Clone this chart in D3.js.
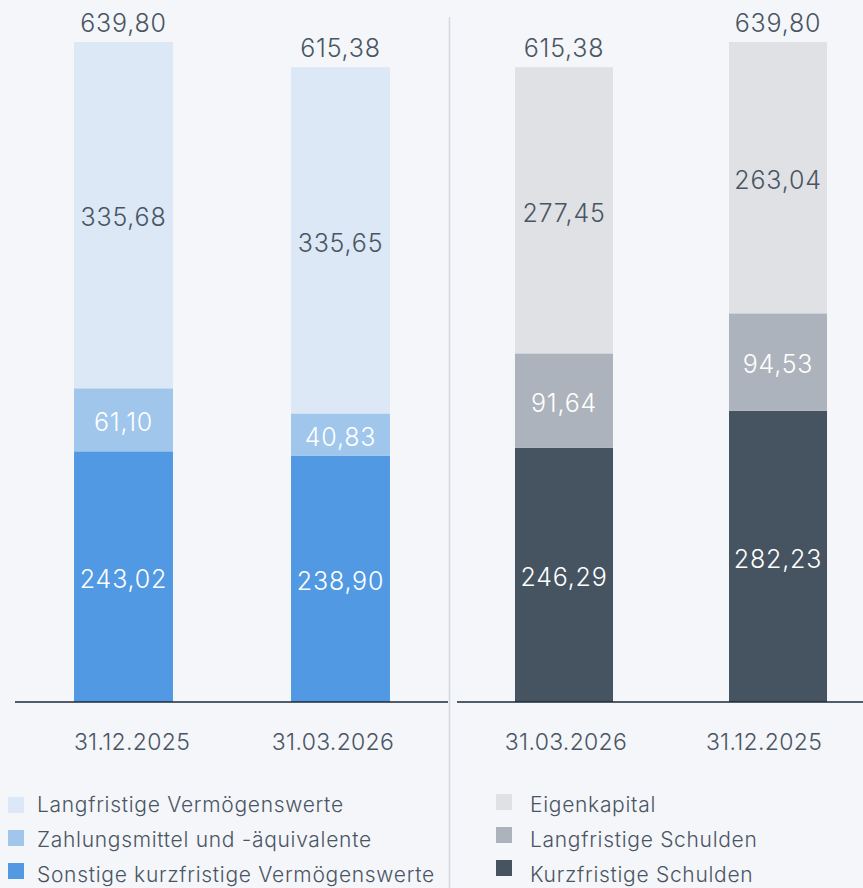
<!DOCTYPE html>
<html>
<head>
<meta charset="utf-8">
<script src="https://cdn.jsdelivr.net/npm/d3@7"></script>
<style>
  body { margin: 0; background: #f4f6fa; }
  svg { display: block; font-family: Inter, "Open Sans", sans-serif; }
</style>
</head>
<body>
<svg width="863" height="888"></svg>
<script>
// Aktiva
const assetDates = ['31.12.2025', '31.03.2026'];
const assetSeries = ['Sonstige kurzfristige Vermögenswerte', 'Zahlungsmittel und -äquivalente', 'Langfristige Vermögenswerte'];
const sonstigeKurz = [243.02, 238.90];
const zahlungsmittel = [61.10, 40.83];
const langVermoegen = [335.68, 335.65];
const assetTotals = [639.80, 615.38];

// Passiva
const liabDates = ['31.03.2026', '31.12.2025'];
const liabSeries = ['Kurzfristige Schulden', 'Langfristige Schulden', 'Eigenkapital'];
const kurzSchulden = [246.29, 282.23];
const langSchulden = [91.64, 94.53];
const eigenkapital = [277.45, 263.04];
const liabTotals = [615.38, 639.80];

const assetColors = ['#5199e2', '#a0c6ec', '#dce8f6'];
const liabColors = ['#465361', '#adb3bc', '#dfe1e5'];
const labelColors = ['#ffffff', '#ffffff', '#4a5563'];
const textColor = '#4a5563';

const fmt = v => v.toFixed(2).replace('.', ',');

const svg = d3.select('svg');
const baseY = 702;
const y = d3.scaleLinear().domain([0, 639.80]).range([baseY, 42]);

function panel(dates, series, values, totals, colors, x, tickX, lineX) {
  const g = svg.append('g');
  const rows = dates.map((d, i) => {
    const r = { date: d };
    series.forEach((s, j) => r[s] = values[j][i]);
    return r;
  });
  const stacked = d3.stack().keys(series)(rows);

  stacked.forEach((layer, j) => {
    g.selectAll('.seg' + j)
      .data(layer)
      .enter()
      .append('rect')
      .attr('x', d => x(d.data.date))
      .attr('width', x.bandwidth())
      .attr('y', d => y(d[1]))
      .attr('height', d => y(d[0]) - y(d[1]))
      .attr('fill', colors[j]);

    g.selectAll('.lab' + j)
      .data(layer)
      .enter()
      .append('text')
      .text(d => fmt(d[1] - d[0]))
      .attr('x', d => x(d.data.date) + x.bandwidth() / 2)
      .attr('y', d => (y(d[0]) + y(d[1])) / 2)
      .attr('dy', '0.45em')
      .attr('text-anchor', 'middle')
      .attr('font-size', 25)
      .attr('font-weight', 300)
      .attr('letter-spacing', 0.8)
      .attr('fill', labelColors[j]);
  });

  g.selectAll('.total')
    .data(dates)
    .enter()
    .append('text')
    .text((d, i) => fmt(totals[i]))
    .attr('x', d => x(d) + x.bandwidth() / 2)
    .attr('y', (d, i) => y(totals[i]) - 10)
    .attr('text-anchor', 'middle')
    .attr('font-size', 25)
    .attr('font-weight', 300)
    .attr('letter-spacing', 0.8)
    .attr('fill', textColor);

  g.append('line')
    .attr('x1', lineX[0]).attr('x2', lineX[1])
    .attr('y1', baseY).attr('y2', baseY)
    .attr('stroke', '#1c2a3a')
    .attr('stroke-width', 1.5);

  g.selectAll('.tick')
    .data(dates)
    .enter()
    .append('text')
    .text(d => d)
    .attr('x', d => tickX(d))
    .attr('y', 750)
    .attr('text-anchor', 'middle')
    .attr('font-size', 23)
    .attr('font-weight', 300)
    .attr('letter-spacing', 0.3)
    .attr('fill', textColor);
}

const xAssets = d3.scaleBand().domain(assetDates).range([15, 449]).paddingInner(0.544).paddingOuter(0.272);
const xLiab = d3.scaleBand().domain(liabDates).range([457.2, 884.8]).paddingInner(0.542).paddingOuter(0.27);
const tickAssets = d3.scalePoint().domain(assetDates).range([132, 333]);
const tickLiab = d3.scalePoint().domain(liabDates).range([566, 764]);

panel(assetDates, assetSeries, [sonstigeKurz, zahlungsmittel, langVermoegen], assetTotals, assetColors, xAssets, tickAssets, [15, 448]);
panel(liabDates, liabSeries, [kurzSchulden, langSchulden, eigenkapital], liabTotals, liabColors, xLiab, tickLiab, [457, 863]);

// separator
svg.append('line')
  .attr('x1', 449.5).attr('x2', 449.5)
  .attr('y1', 17).attr('y2', 888)
  .attr('stroke', '#d3d8de')
  .attr('stroke-width', 1.5);

// legends (top row = top of stack)
function legend(series, colors, x0, swatchY, textDx, textY) {
  const items = series.map((s, i) => ({ name: s, color: colors[i] })).reverse();
  const lg = svg.append('g').attr('transform', `translate(${x0}, 0)`);
  lg.selectAll('rect')
    .data(items)
    .enter()
    .append('rect')
    .attr('x', 0)
    .attr('y', (d, i) => swatchY + i * 33 - 8)
    .attr('width', 16).attr('height', 16)
    .attr('fill', d => d.color);
  lg.selectAll('text')
    .data(items)
    .enter()
    .append('text')
    .text(d => d.name)
    .attr('x', textDx)
    .attr('y', (d, i) => textY + i * 35)
    .attr('font-size', 21)
    .attr('font-weight', 300)
    .attr('letter-spacing', 0.7)
    .attr('fill', textColor);
}
legend(assetSeries, assetColors, 8, 805, 29, 812);
legend(liabSeries, liabColors, 496, 802, 34, 812);
</script>
</body>
</html>
